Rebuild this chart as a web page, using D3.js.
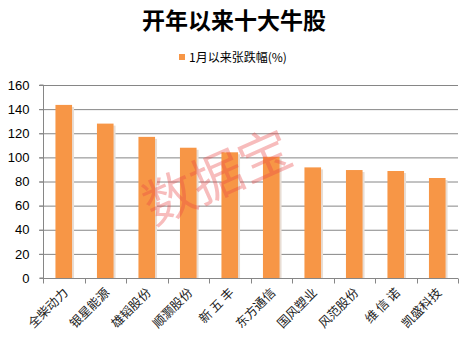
<!DOCTYPE html>
<html><head><meta charset="utf-8">
<script src="https://cdn.jsdelivr.net/npm/d3@7"></script>
<style>body{margin:0;background:#fff}svg{display:block}</style>
</head><body>
<script>
const categories = ["全柴动力","银星能源","雄韬股份","顺灏股份","新 五 丰","东方通信","国风塑业","风范股份","维 信 诺","凯盛科技"];
const values = [143.5, 128, 117, 108, 104.2, 100.5, 91.7, 89.5, 88.7, 82.9];
const yTicks = [0,20,40,60,80,100,120,140,160];
const title = "开年以来十大牛股";
const seriesName = "1月以来张跌幅(%)";
const watermark = "数据宝";

const W = 469, H = 352;
const svg = d3.select("body").append("svg").attr("width", W).attr("height", H);
const m = {left: 43, right: 11, top: 85, bottom: 74};
const x = d3.scaleBand().domain(categories).range([m.left, W - m.right]).paddingInner(0.6).paddingOuter(0.3);
const y = d3.scaleLinear().domain([0, 160]).range([H - m.bottom, m.top]);

// gridlines
svg.append("g").selectAll("line").data(yTicks.filter(d => d > 0)).join("line")
  .attr("x1", m.left - 4).attr("x2", W - m.right)
  .attr("y1", d => y(d) + 0.5).attr("y2", d => y(d) + 0.5)
  .attr("stroke", "#868686").attr("stroke-width", 1);

// y axis
const ya = svg.append("g").attr("transform", `translate(${m.left + 0.5},0)`)
  .call(d3.axisLeft(y).tickValues(yTicks).tickSize(4).tickPadding(10).tickFormat(d3.format("d")));
ya.select(".domain").attr("stroke", "#868686").attr("d", `M-4,${y(0)}H0V${y(160)}H-4`);
ya.selectAll(".tick line").attr("stroke", "#868686");
ya.selectAll(".tick text").attr("font-family", "'Liberation Sans', Arial, sans-serif").attr("font-size", 13).attr("fill", "#000");

// bar shadows
svg.append("g").selectAll("rect").data(values).join("rect")
  .attr("x", (d, i) => x(categories[i]) + 2).attr("y", d => y(d) + 2)
  .attr("width", x.bandwidth()).attr("height", d => y(0) - y(d) - 2)
  .attr("fill", "#e8ddd4");
// bars
svg.append("g").selectAll("rect").data(values).join("rect")
  .attr("x", (d, i) => x(categories[i])).attr("y", d => y(d))
  .attr("width", x.bandwidth()).attr("height", d => y(0) - y(d))
  .attr("fill", "#F79646");

// x axis
const xBand = d3.scaleBand().domain(categories).range([m.left, W - m.right]);
const xa = svg.append("g").attr("transform", `translate(0,${y(0) + 0.5})`);
xa.append("line").attr("x1", m.left).attr("x2", W - m.right).attr("stroke", "#868686");
xa.selectAll("line.tk").data(d3.range(categories.length + 1)).join("line").attr("class", "tk")
  .attr("x1", i => Math.round(m.left + i * xBand.step()) + 0.5).attr("x2", i => Math.round(m.left + i * xBand.step()) + 0.5)
  .attr("y1", 0).attr("y2", 5).attr("stroke", "#868686");
xa.append("g").selectAll("text").data(categories).join("text")
  .attr("transform", d => `translate(${x(d) + x.bandwidth() / 2 + 5},15) rotate(-45)`)
  .attr("text-anchor", "end").attr("font-size", 12.5)
  .attr("font-family", "'Noto Sans CJK SC', sans-serif").attr("fill", "#222")
  .text(d => d);

// title
svg.append("text").attr("x", 234).attr("y", 29).attr("text-anchor", "middle")
  .attr("font-family", "'Noto Sans CJK SC', sans-serif").attr("font-weight", "bold").attr("font-size", 23)
  .attr("fill", "#000").text(title);

// legend
svg.append("rect").attr("x", 179).attr("y", 54).attr("width", 6).attr("height", 6).attr("fill", "#F79646");
svg.append("text").attr("x", 189).attr("y", 62).attr("font-family", "'Noto Sans CJK SC', sans-serif")
  .attr("font-size", 12).attr("fill", "#000").text(seriesName);

// watermark
svg.append("text").attr("transform", "translate(219,181) rotate(-24)").attr("text-anchor", "middle")
  .attr("dominant-baseline", "middle")
  .attr("font-family", "'Noto Sans CJK SC', sans-serif").attr("font-size", 52)
  .attr("fill", "rgba(232,70,70,0.36)").text(watermark);
</script>
</body></html>
